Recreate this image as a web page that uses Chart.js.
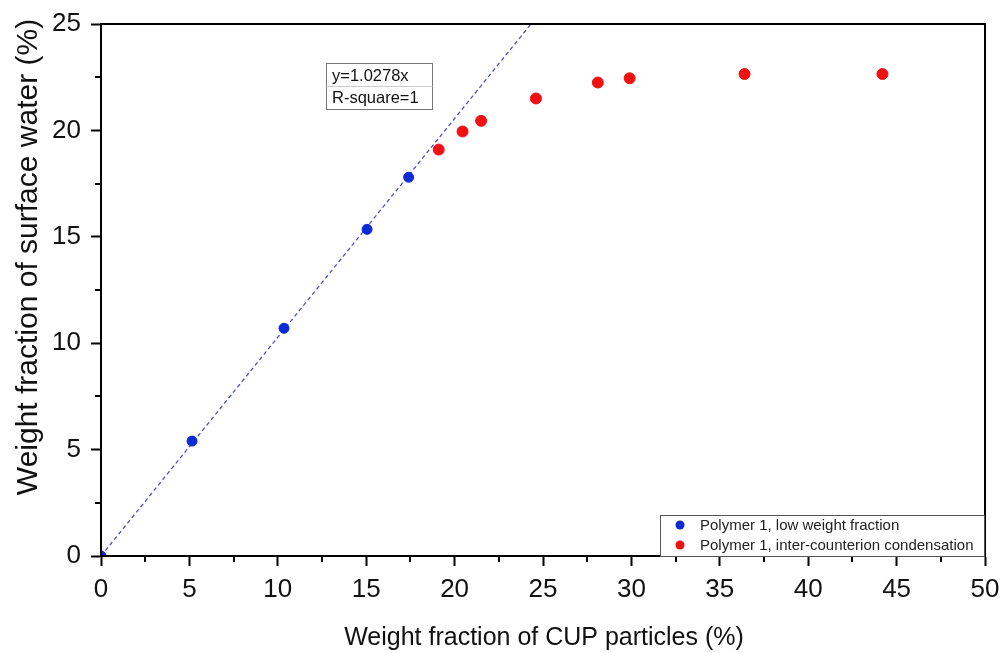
<!DOCTYPE html>
<html>
<head>
<meta charset="utf-8">
<script src="https://cdn.jsdelivr.net/npm/chart.js@4/dist/chart.umd.min.js"></script>
<style>
  html, body { margin: 0; padding: 0; background: #fff; }
  #wrap { width: 1003px; height: 653px; }
</style>
</head>
<body>
<div id="wrap"><canvas id="chart" width="1003" height="653"></canvas></div>
<script>
// valores
const lowX = [0, 5.15, 10.35, 15.05, 17.4];
const lowY = [0, 5.4, 10.7, 15.35, 17.8];
const condX = [19.1, 20.45, 21.5, 24.6, 28.1, 29.9, 36.4, 44.2];
const condY = [19.1, 19.95, 20.45, 21.5, 22.25, 22.45, 22.65, 22.65];
const fitX = [0, 24.32];
const fitY = [0, 25];
const xTicks = [0, 5, 10, 15, 20, 25, 30, 35, 40, 45, 50];
const yTicks = [0, 5, 10, 15, 20, 25];

const FONT = '"Liberation Sans", Arial, sans-serif';

function pts(xs, ys) {
  return xs.map((x, i) => ({ x: x, y: ys[i] }));
}

function halfSteps(max) {
  const t = [];
  for (let v = 0; v <= max; v += 2.5) t.push({ value: v });
  return t;
}

// moldura, ticks menores, títulos, caixa de ajuste, legenda
const extras = {
  id: 'extras',
  afterDraw(chart) {
    const ctx = chart.ctx;
    const a = chart.chartArea;
    const sx = chart.scales.x, sy = chart.scales.y;
    ctx.save();
    ctx.strokeStyle = '#000';
    ctx.lineWidth = 2;
    ctx.strokeRect(a.left, a.top, a.right - a.left, a.bottom - a.top);

    // ticks menores
    ctx.beginPath();
    sx.ticks.forEach(t => {
      if (xTicks.includes(t.value)) return;
      const px = Math.round(sx.getPixelForValue(t.value));
      ctx.moveTo(px, a.bottom);
      ctx.lineTo(px, a.bottom + 6);
    });
    sy.ticks.forEach(t => {
      if (yTicks.includes(t.value)) return;
      const py = Math.round(sy.getPixelForValue(t.value));
      ctx.moveTo(a.left, py);
      ctx.lineTo(a.left - 6, py);
    });
    ctx.stroke();

    // título eixo y
    ctx.fillStyle = '#111';
    ctx.font = '30px ' + FONT;
    ctx.textAlign = 'center';
    ctx.textBaseline = 'middle';
    ctx.translate(29, 257);
    ctx.rotate(-Math.PI / 2);
    ctx.fillText('Weight fraction of surface water (%)', 0, 0);
    ctx.restore();

    ctx.save();
    ctx.fillStyle = '#111';
    ctx.font = '25px ' + FONT;
    ctx.textAlign = 'center';
    ctx.textBaseline = 'middle';
    ctx.fillText('Weight fraction of CUP particles (%)', 544, 638);

    // caixa da equação
    ctx.fillStyle = '#fff';
    ctx.fillRect(326, 63, 106, 46);
    ctx.strokeStyle = '#777';
    ctx.lineWidth = 1;
    ctx.strokeRect(326.5, 63.5, 106, 46);
    ctx.beginPath();
    ctx.moveTo(326.5, 86.5);
    ctx.lineTo(432.5, 86.5);
    ctx.strokeStyle = '#ccc';
    ctx.stroke();
    ctx.fillStyle = '#111';
    ctx.font = '16.5px ' + FONT;
    ctx.textAlign = 'left';
    ctx.fillText('y=1.0278x', 332, 76);
    ctx.fillText('R-square=1', 332, 98);

    // legenda
    const lx = 660, ly = 515, lw = 324, lh = 41;
    ctx.fillStyle = '#fff';
    ctx.fillRect(lx, ly, lw, lh);
    ctx.strokeStyle = '#555';
    ctx.strokeRect(lx + 0.5, ly + 0.5, lw, lh);
    const sets = chart.data.datasets.filter(d => d.showInLegend);
    ctx.font = '15px ' + FONT;
    sets.forEach((d, i) => {
      const cy = ly + 10 + i * 20;
      ctx.beginPath();
      ctx.arc(lx + 20, cy, 4.5, 0, Math.PI * 2);
      ctx.fillStyle = d.backgroundColor;
      ctx.fill();
      ctx.fillStyle = '#222';
      ctx.fillText(d.label, lx + 40, cy + 1);
    });
    ctx.restore();
  }
};

const axisBase = {
  type: 'linear',
  border: { color: '#000', width: 2 },
  grid: {
    drawOnChartArea: false,
    drawTicks: true,
    tickLength: 10,
    tickWidth: 2,
    tickColor: ctx => (ctx.tick && (ctx.tick.value % 5 === 0)) ? '#000' : 'rgba(0,0,0,0)'
  }
};

new Chart(document.getElementById('chart'), {
  type: 'scatter',
  data: {
    datasets: [
      {
        type: 'line',
        label: 'fit',
        data: pts(fitX, fitY),
        borderColor: '#5050cc',
        borderWidth: 1.3,
        borderDash: [4, 3],
        pointRadius: 0,
        fill: false,
        order: 3
      },
      {
        label: 'Polymer 1, low weight fraction',
        data: pts(lowX, lowY),
        backgroundColor: '#0a2ad6',
        borderColor: '#0a2ad6',
        pointRadius: 5,
        showInLegend: true,
        order: 1
      },
      {
        label: 'Polymer 1, inter-counterion condensation',
        data: pts(condX, condY),
        backgroundColor: '#f01010',
        borderColor: '#f01010',
        pointRadius: 5.5,
        showInLegend: true,
        order: 2
      }
    ]
  },
  options: {
    responsive: false,
    animation: false,
    layout: { padding: { top: 24, right: 18, left: 0, bottom: 0 } },
    plugins: {
      legend: { display: false },
      tooltip: { enabled: false }
    },
    scales: {
      x: Object.assign({}, axisBase, {
        min: 0,
        max: 50,
        afterFit(s) { s.height = 97; s.paddingLeft = 0; s.paddingRight = 0; },
        afterBuildTicks(s) { s.ticks = halfSteps(50); },
        ticks: {
          color: '#111',
          font: { family: FONT, size: 26 },
          padding: 8,
          maxRotation: 0,
          autoSkip: false,
          callback: v => xTicks.includes(v) ? String(v) : ''
        }
      }),
      y: Object.assign({}, axisBase, {
        min: 0,
        max: 25,
        afterFit(s) { s.width = 101; s.paddingTop = 0; s.paddingBottom = 0; },
        afterBuildTicks(s) { s.ticks = halfSteps(25); },
        ticks: {
          color: '#111',
          font: { family: FONT, size: 26 },
          padding: 10,
          autoSkip: false,
          callback: v => yTicks.includes(v) ? String(v) : ''
        }
      })
    }
  },
  plugins: [extras]
});
</script>
</body>
</html>
